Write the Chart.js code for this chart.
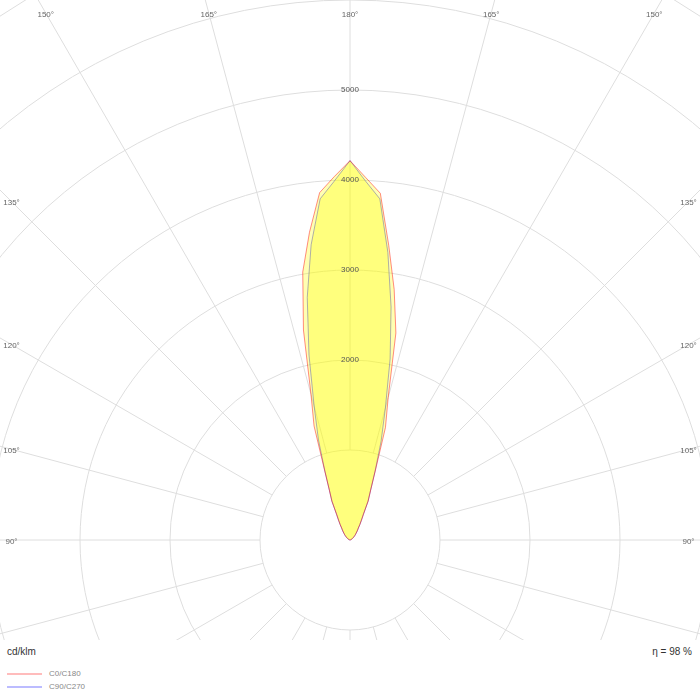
<!DOCTYPE html>
<html><head><meta charset="utf-8">
<script src="https://cdn.jsdelivr.net/npm/chart.js@4.4.0/dist/chart.umd.min.js"></script>
<style>
html,body{margin:0;padding:0;background:#fff;}
#wrap{position:relative;width:700px;height:700px;overflow:hidden;font-family:"Liberation Sans",Arial,sans-serif;}
#plot{position:absolute;left:0;top:0;width:700px;height:640px;}
.unit{position:absolute;left:7px;top:645px;font-size:10px;color:#333;line-height:14px;}
.eta{position:absolute;right:8px;top:645px;font-size:10px;color:#333;line-height:14px;}
.leg{position:absolute;left:7px;font-size:8px;color:#888;line-height:10px;white-space:nowrap;}
.leg i{display:inline-block;width:35px;height:2px;vertical-align:middle;margin-right:7px;}
</style></head>
<body>
<div id="wrap">
<div id="plot"><canvas id="c" width="700" height="640"></canvas></div>
<div class="unit" id="unit"></div>
<div class="eta" id="eta"></div>
<div class="leg" style="top:669px"><i style="background:#ffbcbc"></i><span id="l0"></span></div>
<div class="leg" style="top:682px"><i style="background:#bcbcff"></i><span id="l1"></span></div>
</div>
<script>
// gamma angles (degrees), 2.5 degree steps from 0 to 180
const gammaDeg = [0,2.5,5,7.5,10,12.5,15,17.5,20,22.5,25,27.5,30,32.5,35,37.5,40,42.5,45,47.5,
                  50,52.5,55,57.5,60,62.5,65,67.5,70,72.5,75,77.5,80,82.5,85,87.5,
                  90,92.5,95,97.5,100,102.5,105,107.5,110,112.5,115,117.5,120,122.5,125,127.5,
                  130,132.5,135,137.5,140,142.5,145,147.5,150,152.5,155,157.5,160,162.5,
                  165,167.5,170,172.5,175,177.5,180];
// luminous intensity, cd/klm (right half C0 / C90, left half C180 / C270)
const c0 =   [0,0,0,0,0,0,0,0,0,0,0,0,0,0,0,0,0,0,0,0,0,0,0,0,0,0,0,0,0,0,0,0,0,0,0,0,
              0,0,0,1,2,3,5,7,10,14,18,22,28,33,40,50,60,72,85,98,116,138,163,205,256,326,
              478,601,828,1310,1640,2356,2827,3300,3867,4030,4215];
const c180 = [0,0,0,0,0,0,0,0,0,0,0,0,0,0,0,0,0,0,0,0,0,0,0,0,0,0,0,0,0,0,0,0,0,0,0,0,
              0,0,0,1,2,3,5,7,10,14,18,22,28,33,40,50,60,72,85,98,116,138,163,205,256,326,
              478,601,828,1328,1674,2390,3024,3449,3874,4040,4215];
const c90 =  [0,0,0,0,0,0,0,0,0,0,0,0,0,0,0,0,0,0,0,0,0,0,0,0,0,0,0,0,0,0,0,0,0,0,0,0,
              0,0,0,1,2,3,5,7,10,14,18,22,28,33,40,50,60,72,85,98,116,138,160,202,252,322,
              472,595,815,1150,1520,2060,2629,3224,3805,3990,4215];
const c270 = [0,0,0,0,0,0,0,0,0,0,0,0,0,0,0,0,0,0,0,0,0,0,0,0,0,0,0,0,0,0,0,0,0,0,0,0,
              0,0,0,1,2,3,5,7,10,14,18,22,28,33,40,50,60,72,85,98,116,138,160,202,252,322,
              472,595,815,1165,1541,2105,2736,3309,3805,3992,4215];
const seriesNames = ['C0/C180', 'C90/C270'];
const radialLabelValues = [2000, 3000, 4000, 5000];
const angleLabelValues = [90, 105, 120, 135, 150, 165, 180];
const unitLabel = 'cd/klm';
const etaLabel = 'η = 98 %';

document.getElementById('unit').textContent = unitLabel;
document.getElementById('eta').textContent = etaLabel;
document.getElementById('l0').textContent = seriesNames[0];
document.getElementById('l1').textContent = seriesNames[1];

const STEP = 2.5;
const N = 360 / STEP;
const labels = [];
for (let i = 0; i < N; i++) labels.push(Math.abs(180 - i * STEP));
const half = N / 2;
const valueAt = (arr, g) => arr[gammaDeg.indexOf(g)];
const dataA = labels.map((g, i) => valueAt(i <= half ? c0 : c180, g));
const dataB = labels.map((g, i) => valueAt(i <= half ? c90 : c270, g));

const FONT = '"Liberation Sans", Arial, sans-serif';

const polarDecor = {
  id: 'polarDecor',
  beforeDatasetsDraw(chart) {
    const s = chart.scales.r, ctx = chart.ctx;
    const r0 = s.getDistanceFromCenterForValue(1000);
    ctx.save();
    ctx.strokeStyle = '#dedede';
    ctx.lineWidth = 1;
    labels.forEach((g, i) => {
      if (g % 15 !== 0) return;
      const a = s.getPointPosition(i, r0), b = s.getPointPosition(i, 2000);
      ctx.beginPath(); ctx.moveTo(a.x, a.y); ctx.lineTo(b.x, b.y); ctx.stroke();
    });
    ctx.restore();
  },
  afterDraw(chart) {
    const s = chart.scales.r, ctx = chart.ctx;
    ctx.save();
    ctx.font = '8px ' + FONT;
    ctx.fillStyle = '#666';
    ctx.textAlign = 'center';
    ctx.textBaseline = 'middle';
    const inX = 11.5, inY = 13;
    labels.forEach((g, i) => {
      if (!angleLabelValues.includes(g)) return;
      const p = s.getPointPosition(i, 1);
      const dx = p.x - s.xCenter, dy = p.y - s.yCenter;
      let t = Infinity;
      if (dx < -1e-6) t = Math.min(t, (inX - s.xCenter) / dx);
      if (dx > 1e-6) t = Math.min(t, (chart.width - inX - s.xCenter) / dx);
      if (dy < -1e-6) t = Math.min(t, (inY - s.yCenter) / dy);
      ctx.fillText(g + '°', s.xCenter + dx * t, s.yCenter + dy * t + 1.5);
    });
    ctx.restore();
  }
};

new Chart(document.getElementById('c'), {
  type: 'radar',
  data: {
    labels: labels,
    datasets: [
      { label: seriesNames[0], data: dataA, borderColor: 'rgba(255,0,0,0.45)',
        backgroundColor: 'rgba(255,255,0,0.3)', borderWidth: 1, fill: 'origin',
        pointRadius: 0, tension: 0 },
      { label: seriesNames[1], data: dataB, borderColor: 'rgba(0,0,255,0.45)',
        backgroundColor: 'rgba(255,255,0,0.3)', borderWidth: 1, fill: 'origin',
        pointRadius: 0, tension: 0 }
    ]
  },
  options: {
    responsive: false,
    animation: false,
    devicePixelRatio: 1,
    layout: { padding: 0 },
    plugins: { legend: { display: false }, tooltip: { enabled: false } },
    scales: {
      r: {
        min: 0, max: 8000, startAngle: 0,
        ticks: {
          stepSize: 1000, z: 1, showLabelBackdrop: false, color: '#555',
          font: { size: 8, family: FONT },
          callback: v => radialLabelValues.includes(v) ? String(v) : ''
        },
        grid: { circular: true, color: '#dedede', lineWidth: 1 },
        angleLines: { display: false },
        pointLabels: { display: false },
        afterFit: (scale) => {
          scale.xCenter = (scale.left + scale.right) / 2;
          scale.yCenter = 540;
          scale.drawingArea = 720;
        }
      }
    }
  },
  plugins: [polarDecor]
});
</script>
</body></html>
